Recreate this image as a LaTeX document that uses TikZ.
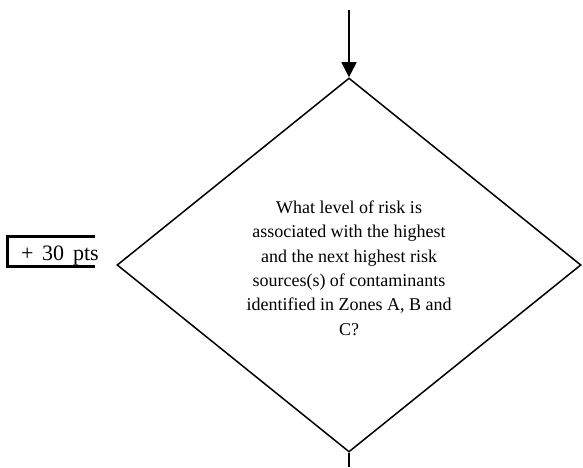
\documentclass[tikz,border=0pt]{standalone}
\usepackage{fontspec}
\setmainfont{Liberation Serif}
\usetikzlibrary{shapes.geometric,arrows.meta}
\begin{document}
\begin{tikzpicture}[x=1pt,y=1pt,
  txt/.style={font=\fontsize{18}{24.4}\selectfont},
  decision/.style={draw,diamond,line width=1.5pt,inner sep=0pt,
    minimum width=464pt,minimum height=374pt},
  flow/.style={line width=1.5pt},
  scorebox/.style={inner sep=0pt,minimum width=87pt,minimum height=29pt}]
\useasboundingbox (0,0) rectangle (583,467);

% decision node and its question
\node[decision] (q) at (349,202) {};
\node[txt,align=center,inner sep=0pt] (qtext) at (349,199)
  {What level of risk is\\
   associated with the highest\\
   and the next highest risk\\
   sources(s) of contaminants\\
   identified in Zones A, B and\\
   C?};

% incoming and outgoing flow
\coordinate (in) at (349,457);
\coordinate (out) at (349,0);
\draw[flow,-{Triangle[width=15pt,length=15pt]}] (in) -- (q.north);
\draw[flow] (q.south) -- (out);

% score box, open on the right
\node[scorebox] (box) at (51.5,215.5) {};
\node[anchor=base west,inner sep=0pt,font=\fontsize{22}{26}\selectfont] (pts)
  at (21,207) {+\hspace{8.5pt}30\hspace{9pt}pts};
\draw[line width=3pt] (box.north east) -- (box.north west)
  -- (box.south west) -- (box.south east);
\end{tikzpicture}
\end{document}
